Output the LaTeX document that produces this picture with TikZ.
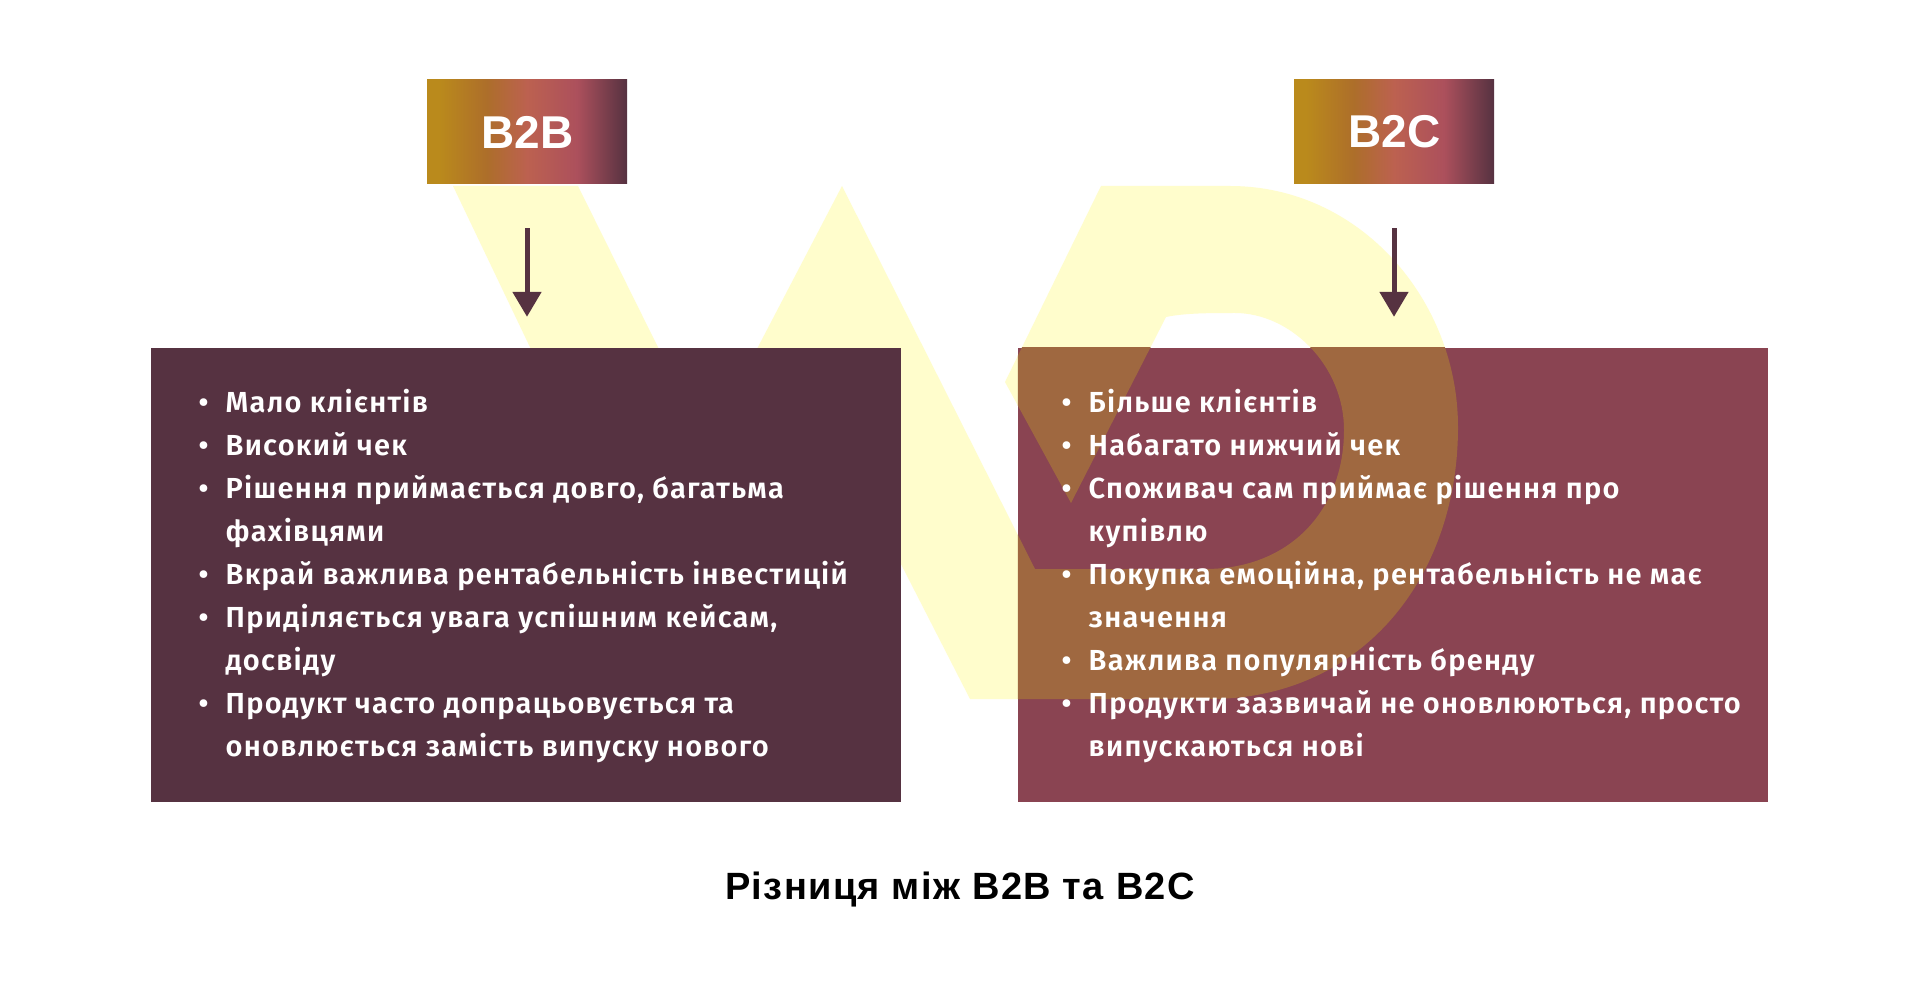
\documentclass[tikz,border=0pt]{standalone}
\usepackage{fontspec}
\setmainfont{Fira Sans}
\newfontfamily\bodyfont[LetterSpace=4.3,BoldFont={Fira Sans SemiBold}]{Fira Sans}
\newfontfamily\headfont{Liberation Sans}
\newfontfamily\capfont[LetterSpace=3.6]{Liberation Sans}
\usetikzlibrary{arrows.meta}
\definecolor{wmyellow}{HTML}{FFFDCC}
\definecolor{wmbrown}{HTML}{9F6840}
\definecolor{plum}{HTML}{563241}
\definecolor{wine}{HTML}{8A4452}
\definecolor{gA}{HTML}{BA8A1C}
\definecolor{gB}{HTML}{AD6E2A}
\definecolor{gC}{HTML}{BC6150}
\definecolor{gD}{HTML}{AC505C}
\pgfdeclarehorizontalshading{badgegrad}{100bp}{color(0bp)=(gA);color(25bp)=(gA);color(28bp)=(gA);color(40bp)=(gB);color(50bp)=(gC);color(62.5bp)=(gD);color(75bp)=(plum);color(100bp)=(plum)}
\newcommand{\wmpath}{(453,186) -- (578,186) -- (705,442) -- (758,347) -- (842,186) -- (1035,569) -- (1205,569)
  .. controls (1290,569) and (1344,510) .. (1344,430)
  .. controls (1344,365) and (1290,313) .. (1235,313)
  .. controls (1210,313) and (1185,313) .. (1166,317) -- (1071,503) -- (1005,382) -- (1101,186) -- (1230,186)
  .. controls (1360,186) and (1458,300) .. (1458,427)
  .. controls (1458,580) and (1360,699) .. (1210,699)
  -- (970,699) -- (860,484) -- (560,410) -- cycle}
\tikzset{
  badge/.style={shading=badgegrad,inner sep=0pt,minimum width=200pt,minimum height=104pt,text=white,font=\headfont\fontsize{46}{54}\selectfont\bfseries},
  panel/.style={inner sep=0pt,minimum width=750pt,minimum height=454pt},
  ln/.style={anchor=base west,inner sep=0pt,text=white,font=\bodyfont\fontsize{29}{35}\selectfont\bfseries},
  flow/.style={draw=plum,line width=5pt,-{Triangle[width=28pt,length=25pt,fill=plum]},shorten <=44pt,shorten >=31pt},
  caption/.style={anchor=base,inner sep=0pt,text=black,font=\capfont\fontsize{38}{44}\selectfont\bfseries}
}
\newcommand{\bul}{\llap{\makebox[27pt][l]{•}}}
\begin{document}
\begin{tikzpicture}[x=1pt,y=-1pt]
\useasboundingbox (0,0) rectangle (1920,1000);
\fill[white] (0,0) rectangle (1920,1000);
\fill[wmyellow] \wmpath;
\node[panel,fill=plum] (panelL) at (526,575) {};
\node[panel,fill=wine] (panelR) at (1393,575) {};
\begin{scope}
\clip (panelR.south west) rectangle (panelR.north east);
\fill[wmbrown] \wmpath;
\end{scope}
\node[badge] (b2b) at (527,132) {\hspace*{1.5pt}B2B};
\node[badge] (b2c) at (1394,132) {\hspace*{1.5pt}B2C};
\draw[flow] (b2b.south) -- (b2b.south |- panelL.north);
\draw[flow] (b2c.south) -- (b2c.south |- panelR.north);
\node[ln] (l1) at (225.5,412.5) {\bul Мало клієнтів};
\node[ln] (l2) at (225.5,455.5) {\bul Високий чек};
\node[ln] (l3) at (225.5,498.5) {\bul Рішення приймається довго, багатьма};
\node[ln] (l4) at (225.5,541.5) {фахівцями};
\node[ln] (l5) at (225.5,584.5) {\bul Вкрай важлива рентабельність інвестицій};
\node[ln] (l6) at (225.5,627.5) {\bul Приділяється увага успішним кейсам,};
\node[ln] (l7) at (225.5,670.5) {досвіду};
\node[ln] (l8) at (225.5,713.5) {\bul Продукт часто допрацьовується та};
\node[ln] (l9) at (225.5,756.5) {оновлюється замість випуску нового};
\node[ln] (r1) at (1088.5,412.5) {\bul Більше клієнтів};
\node[ln] (r2) at (1088.5,455.5) {\bul Набагато нижчий чек};
\node[ln] (r3) at (1088.5,498.5) {\bul Споживач сам приймає рішення про};
\node[ln] (r4) at (1088.5,541.5) {купівлю};
\node[ln] (r5) at (1088.5,584.5) {\bul Покупка емоційна, рентабельність не має};
\node[ln] (r6) at (1088.5,627.5) {значення};
\node[ln] (r7) at (1088.5,670.5) {\bul Важлива популярність бренду};
\node[ln] (r8) at (1088.5,713.5) {\bul Продукти зазвичай не оновлюються, просто};
\node[ln] (r9) at (1088.5,756.5) {випускаються нові};
\node[caption] (cap) at (960,899) {Різниця між B2B та B2C};
\end{tikzpicture}
\end{document}
